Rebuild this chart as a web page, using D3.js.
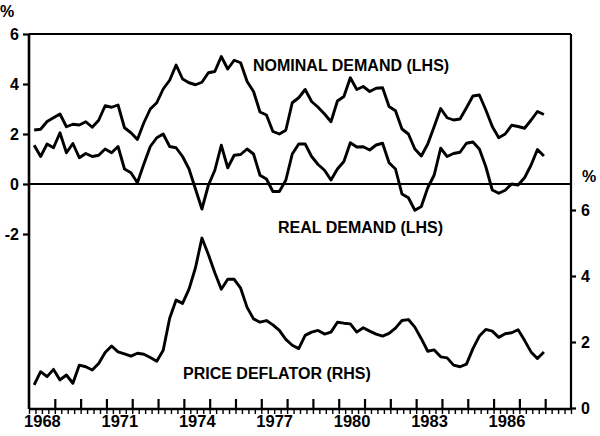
<!DOCTYPE html>
<html><head><meta charset="utf-8">
<script src="https://cdn.jsdelivr.net/npm/d3@7"></script>
<style>body{margin:0;background:#fff}svg{display:block}text{font-family:"Liberation Sans",Arial,sans-serif;font-weight:bold;fill:#000}</style>
</head><body><svg id="c" width="600" height="436"></svg>
<script>
// Quarterly data, 1968 Q1 .. 1987 Q4
const firstQuarter = 1968.2;
const nominalDemand = [2.16,2.19,2.5,2.65,2.8,2.29,2.39,2.36,2.49,2.27,2.55,3.13,3.07,3.16,2.25,2.05,1.78,2.45,3.0,3.25,
  3.8,4.15,4.76,4.2,4.05,3.97,4.07,4.45,4.5,5.1,4.6,4.95,4.85,4.1,3.7,2.88,2.76,2.1,2.0,2.15,
  3.25,3.45,3.78,3.3,3.07,2.8,2.49,3.32,3.5,4.25,3.78,3.9,3.7,3.83,3.85,3.1,2.93,2.2,2.0,1.4,
  1.12,1.6,2.3,3.02,2.65,2.56,2.6,3.05,3.52,3.56,2.96,2.3,1.85,2.0,2.35,2.3,2.23,2.55,2.9,2.78];
const realDemand = [1.55,1.1,1.6,1.45,2.05,1.25,1.62,1.05,1.22,1.1,1.15,1.4,1.25,1.5,0.6,0.45,0.05,0.8,1.5,1.85,
  2.0,1.5,1.45,1.1,0.6,-0.2,-1.0,-0.05,0.55,1.55,0.65,1.15,1.18,1.4,1.2,0.35,0.2,-0.3,-0.3,0.15,
  1.2,1.6,1.6,1.1,0.78,0.55,0.16,0.6,0.9,1.65,1.48,1.49,1.36,1.56,1.63,0.85,0.6,-0.4,-0.55,-1.05,
  -0.9,-0.15,0.36,1.43,1.1,1.22,1.27,1.63,1.68,1.4,0.69,-0.24,-0.37,-0.25,0.0,-0.04,0.25,0.75,1.38,1.12];
const priceDeflator = [0.7,1.1,0.95,1.17,0.85,1.0,0.75,1.3,1.25,1.15,1.35,1.68,1.88,1.7,1.64,1.57,1.66,1.63,1.53,1.42,
  1.75,2.72,3.27,3.17,3.6,4.25,5.15,4.65,4.1,3.6,3.9,3.9,3.63,3.05,2.7,2.6,2.65,2.52,2.35,2.08,
  1.9,1.8,2.2,2.3,2.35,2.24,2.3,2.6,2.57,2.55,2.3,2.43,2.33,2.24,2.18,2.26,2.42,2.65,2.68,2.45,
  2.1,1.72,1.76,1.55,1.52,1.3,1.25,1.33,1.8,2.18,2.38,2.33,2.14,2.25,2.28,2.37,2.05,1.7,1.5,1.7];
const yearLabels = [1968,1971,1974,1977,1980,1983,1986];
const leftTicks = [6,4,2,0,-2];
const rightTicks = [0,2,4,6];
const seriesLabels = ["NOMINAL DEMAND (LHS)","REAL DEMAND (LHS)","PRICE DEFLATOR (RHS)"];

const svg = d3.select("#c");
const L=29, R=571, T=34, B=409;
const x = d3.scaleLinear().domain([1968,1989]).range([L,R]);
const yL = d3.scaleLinear().domain([-9,6]).range([B,T]);
const yR = d3.scaleLinear().domain([0,6]).range([408,210]);
const tq = i => firstQuarter + i/4;

// frame
svg.append("line").attr("x1",L).attr("x2",R).attr("y1",T).attr("y2",T).attr("stroke","#000").attr("stroke-width",2.2);
svg.append("line").attr("x1",R).attr("x2",R).attr("y1",T).attr("y2",B).attr("stroke","#000").attr("stroke-width",2.2);
svg.append("line").attr("x1",L).attr("x2",R).attr("y1",yL(0)).attr("y2",yL(0)).attr("stroke","#000").attr("stroke-width",2.2);

// left axis
const gl = svg.append("g").attr("transform",`translate(${L},0)`)
  .call(d3.axisLeft(yL).tickValues(leftTicks).tickSize(6).tickSizeOuter(0).tickFormat(d=>String(d)));
gl.select(".domain").attr("d",`M0,${T}V${B}`).attr("stroke-width",2.6);
gl.selectAll(".tick line").attr("stroke-width",2.2);
gl.selectAll(".tick text").attr("font-size",16).attr("x",-10).attr("font-family","Liberation Sans").attr("font-weight","bold");

// right axis
const gr = svg.append("g").attr("transform",`translate(${R},0)`)
  .call(d3.axisRight(yR).tickValues(rightTicks).tickSize(5).tickSizeOuter(0).tickFormat(d=>String(d)));
gr.select(".domain").remove();
gr.selectAll(".tick line").attr("stroke-width",2.2);
gr.selectAll(".tick text").attr("font-size",16).attr("x",10).attr("font-family","Liberation Sans").attr("font-weight","bold");

// bottom axis: major (up) yearly, minor (down) quarterly
const years = d3.range(1969,1989);
const quarters = d3.range(1968,1989.01,0.25);
svg.append("g").attr("transform",`translate(0,${B})`)
  .call(d3.axisBottom(x).tickValues(quarters).tickSize(5).tickFormat(""))
  .call(g=>{g.select(".domain").attr("d",`M${L},0H${R}`).attr("stroke-width",2.6);g.selectAll(".tick line").attr("stroke-width",1.4);});
svg.append("g").attr("transform",`translate(0,${B})`)
  .call(d3.axisTop(x).tickValues(years).tickSize(10).tickFormat(""))
  .call(g=>{g.select(".domain").remove();g.selectAll(".tick line").attr("stroke-width",2.2);});
svg.append("g").attr("transform",`translate(0,${B})`)
  .call(d3.axisBottom(x).tickValues(yearLabels.map(d=>d+0.5)).tickSize(0).tickFormat(d=>String(Math.floor(d))))
  .call(g=>{g.select(".domain").remove();g.selectAll("text").attr("font-size",16.5).attr("dy","0.92em").attr("font-family","Liberation Sans").attr("font-weight","bold");});

// percent labels
svg.append("text").attr("x",0).attr("y",17).attr("font-size",16).text("%");
svg.append("text").attr("x",582).attr("y",182).attr("font-size",16).text("%");

// lines
const lineL = d3.line().x((d,i)=>x(tq(i))).y(d=>yL(d));
const lineR = d3.line().x((d,i)=>x(tq(i))).y(d=>yR(d));
[[nominalDemand,lineL],[realDemand,lineL],[priceDeflator,lineR]].forEach(([data,gen])=>{
  svg.append("path").datum(data).attr("d",gen).attr("fill","none").attr("stroke","#000")
    .attr("stroke-width",2.9).attr("stroke-linejoin","round");
});

// series labels
const lab = [[253,71],[278,233],[183,379]];
seriesLabels.forEach((t,i)=>svg.append("text").attr("x",lab[i][0]).attr("y",lab[i][1]).attr("font-size",16).text(t));
</script></body></html>
